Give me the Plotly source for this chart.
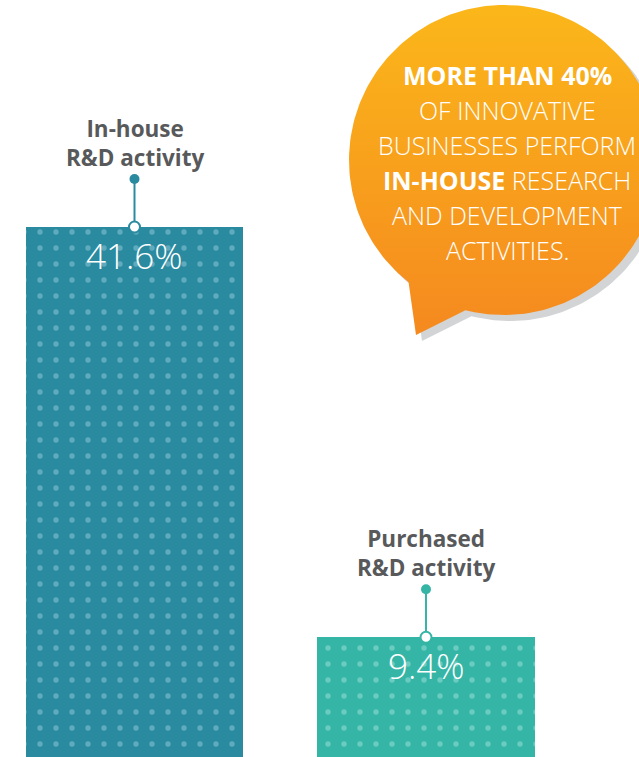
import numpy as np
import plotly.graph_objects as go

# ---- data ----
categories = ["In-house<br>R&D activity", "Purchased<br>R&D activity"]
values = [41.6, 9.4]
value_labels = ["41.6%", "9.4%"]
bar_colors = ["#2A8AA0", "#34B5A6"]
dot_colors = ["#5FAABD", "#6ACCC0"]
callout_lines = [
    ("<b>MORE THAN 40%</b>", 75),
    ("OF INNOVATIVE", 110),
    ("BUSINESSES PERFORM", 145),
    ("<b>IN-HOUSE</b> RESEARCH", 180),
    ("AND DEVELOPMENT", 215),
    ("ACTIVITIES.", 250),
]

W, H = 639, 757
ppu = 530 / 41.6           # pixels per percentage point
leader = 48 / ppu          # leader length in data units
FONT = "Open Sans"

fig = go.Figure()

for i, v in enumerate(values):
    c = bar_colors[i]
    fig.add_trace(go.Bar(
        x=[i], y=[v], width=0.745,
        marker=dict(color=c, line=dict(width=0),
                    pattern=dict(shape=".", fgcolor=dot_colors[i], bgcolor=c, size=16,
                                 solidity=0.09, fillmode="replace")),
        hoverinfo="skip", showlegend=False,
    ))

for i, v in enumerate(values):
    c = bar_colors[i]
    fig.add_trace(go.Scatter(x=[i, i], y=[v, v + leader], mode="lines",
                             line=dict(color=c, width=2), showlegend=False, hoverinfo="skip"))
    fig.add_trace(go.Scatter(x=[i], y=[v + leader], mode="markers",
                             marker=dict(color=c, size=10), showlegend=False, hoverinfo="skip"))
    fig.add_trace(go.Scatter(x=[i], y=[v], mode="markers",
                             marker=dict(color="white", size=11, line=dict(color=c, width=2)),
                             showlegend=False, hoverinfo="skip"))
    fig.add_annotation(x=i, y=v + leader, text=f"<b>{categories[i]}</b>", showarrow=False,
                       yanchor="bottom", yshift=4,
                       font=dict(family=FONT, size=22.5, color="#58595B"))
    fig.add_annotation(x=i, y=v, text=value_labels[i], showarrow=False,
                       yanchor="top", yshift=-3,
                       font=dict(family=FONT, size=35, color="white", weight=300))

# ---- speech bubble (decoration, pixel axes) ----
cx, cy, r = 504, 160, 155
ang = np.radians(np.linspace(128, 464.4, 200))
bx = list(cx + r * np.cos(ang)) + [416]
by = list(cy + r * np.sin(ang)) + [335]
bx.append(bx[0]); by.append(by[0])
fig.add_trace(go.Scatter(x=[p + 6 for p in bx], y=[p + 6 for p in by], fill="toself",
                         fillcolor="#D3D4D6", line=dict(width=0), mode="lines",
                         xaxis="x2", yaxis="y2", showlegend=False, hoverinfo="skip"))
fig.add_trace(go.Scatter(x=bx, y=by, fill="toself", mode="lines", line=dict(width=0),
                         fillgradient=dict(type="vertical",
                                           colorscale=[[0, "#FBB71A"], [1, "#F5891F"]],
                                           start=5, stop=335),
                         xaxis="x2", yaxis="y2", showlegend=False, hoverinfo="skip"))
for txt, py in callout_lines:
    fig.add_annotation(xref="x2", yref="y2", x=507, y=py, text=txt, showarrow=False,
                       xanchor="center", yanchor="middle",
                       font=dict(family=FONT, size=25, color="white", weight=300))

fig.update_layout(
    width=W, height=H, margin=dict(l=0, r=0, t=0, b=0),
    paper_bgcolor="white", plot_bgcolor="white",
    xaxis=dict(range=[-134.5 / 291.5, (W - 134.5) / 291.5], visible=False, fixedrange=True),
    yaxis=dict(range=[0, H / ppu], visible=False, fixedrange=True),
    xaxis2=dict(range=[0, W], visible=False, overlaying="x", fixedrange=True),
    yaxis2=dict(range=[H, 0], visible=False, overlaying="y", fixedrange=True),
    bargap=0, barmode="overlay",
)
fig.write_html("out.html", config={"displayModeBar": False})
